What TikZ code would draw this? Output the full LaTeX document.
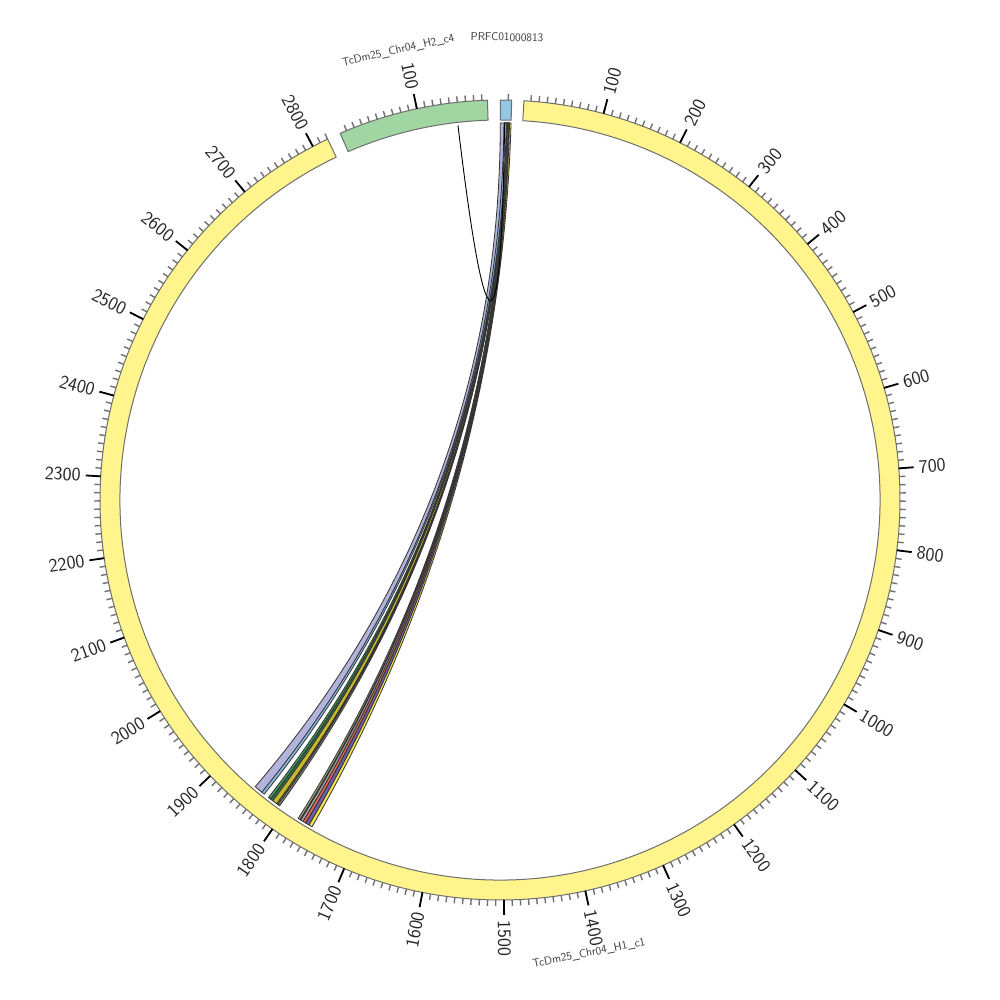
\documentclass[tikz,border=0pt]{standalone}
\usetikzlibrary{calc}
\definecolor{segyellow}{HTML}{FFF58C}
\definecolor{seggreen}{HTML}{A1D6A3}
\definecolor{segblue}{HTML}{95C6E3}
\definecolor{segline}{HTML}{6E6E6E}
\definecolor{tickgray}{HTML}{707070}
\definecolor{labtext}{HTML}{262626}
\definecolor{labtextb}{HTML}{3A3A3A}
\definecolor{linkline}{HTML}{333333}
\definecolor{clav}{HTML}{B3B3DB}
\definecolor{clblue}{HTML}{86B8E2}
\definecolor{cgreen}{HTML}{3F9F5F}
\definecolor{cdkgreen}{HTML}{2F6F4F}
\definecolor{cyel}{HTML}{C8B82A}
\definecolor{colive}{HTML}{8F8F3A}
\definecolor{cgray}{HTML}{8C8C8C}
\definecolor{colgray}{HTML}{A4A482}
\definecolor{cltgreen}{HTML}{9ED09E}
\definecolor{cgrayb}{HTML}{A8A8A8}
\definecolor{cred}{HTML}{E26850}
\definecolor{cpurple}{HTML}{6E5EAE}
\definecolor{cyellow}{HTML}{F4E64C}
% ribbon from blue segment [a1,a2] (angles clockwise from top, deg) to yellow positions [p1,p2]
\newcommand{\myribbon}[5]{%
  \pgfmathsetmacro\ta{90-#1}%
  \pgfmathsetmacro\tb{90-#2}%
  \pgfmathsetmacro\tc{86.74-#3*0.11745}%
  \pgfmathsetmacro\td{86.74-#4*0.11745}%
  \filldraw[link, fill=#5] (\ta:377pt) .. controls (\ta:125.67pt) and (\td:125.67pt) .. (\td:377pt)
    arc[start angle=\td, end angle=\tc, radius=377pt]
    .. controls (\tc:125.67pt) and (\tb:125.67pt) .. (\tb:377pt)
    arc[start angle=\tb, end angle=\ta, radius=377pt] -- cycle;
}
\begin{document}
\begin{tikzpicture}[x=1pt,y=1pt,
  seg/.style={draw=segline, line width=1pt, line join=round},
  minortick/.style={draw=tickgray, line width=1.4pt},
  majortick/.style={draw=black, line width=1.8pt},
  ticklab/.style={font=\sffamily\fontsize{19}{19}\selectfont, text=labtext, inner sep=0pt},
  seglab/.style={font=\sffamily\fontsize{11.5}{12}\selectfont, text=labtextb, inner sep=0pt},
  link/.style={draw=linkline, line width=0.8pt, line join=round},
  thinlink/.style={draw=black, line width=0.9pt}]
\useasboundingbox (-500pt,-500pt) rectangle (500pt,500pt);

% ---------- ribbons ----------
% group 2
\myribbon{0.70}{0.95}{1824}{1827.5}{cgreen}
\myribbon{0.75}{1.00}{1820.5}{1824}{cdkgreen}
\myribbon{0.80}{1.05}{1814}{1820.5}{cyel}
\myribbon{0.85}{1.10}{1812}{1814}{colive}
\myribbon{0.90}{1.15}{1809.5}{1812}{cgray}
% group 3
\myribbon{1.05}{1.25}{1777.5}{1780.5}{colgray}
\myribbon{1.10}{1.30}{1776.5}{1777.5}{cltgreen}
\myribbon{1.15}{1.38}{1773}{1776.5}{cgrayb}
\myribbon{1.25}{1.48}{1769}{1773}{cred}
\myribbon{1.35}{1.58}{1764}{1769}{cpurple}
\myribbon{1.45}{1.68}{1759.5}{1764}{cyellow}
% group 1
\myribbon{0.05}{0.85}{1838}{1849.6}{clav}
\myribbon{0.60}{0.95}{1834.5}{1838.5}{clblue}

% thin link green -> blue
\coordinate (lc) at (0,23pt);
\coordinate (lg) at (96.4:377pt);
\coordinate (lb) at (89.3:377pt);
\draw[thinlink] (lg) .. controls ($(lg)!0.6667!(lc)$) and ($(lb)!0.6667!(lc)$) .. (lb);

% ---------- segments ----------
\draw[seg, fill=segyellow] (86.56:380pt) -- (86.56:400pt)
  arc[start angle=86.56, end angle=-244.47, radius=400pt] -- (-244.47:380pt)
  arc[start angle=-244.47, end angle=86.56, radius=380pt] -- cycle;
\draw[seg, fill=seggreen] (-246.45:380pt) -- (-246.45:400pt)
  arc[start angle=-246.45, end angle=-268.2, radius=400pt] -- (-268.2:380pt)
  arc[start angle=-268.2, end angle=-246.45, radius=380pt] -- cycle;
\draw[seg, fill=segblue] (89.95:380pt) -- (89.95:400pt)
  arc[start angle=89.95, end angle=88.32, radius=400pt] -- (88.32:380pt)
  arc[start angle=88.32, end angle=89.95, radius=380pt] -- cycle;

% ---------- ticks: yellow ----------
\foreach \p in {10,20,...,2820}{
  \pgfmathsetmacro\t{86.74-\p*0.11745}
  \draw[minortick] (\t:400pt) -- (\t:406pt);
}
\foreach \p in {100,200,...,2800}{
  \pgfmathsetmacro\t{86.74-\p*0.11745}
  \draw[majortick] (\t:400pt) -- (\t:415pt);
  \ifdim\t pt<-90pt
    \pgfmathsetmacro\tr{\t+180}
    \node[ticklab, anchor=east, rotate=\tr] (ty\p) at (\t:420pt) {\p};
  \else
    \node[ticklab, anchor=west, rotate=\t] (ty\p) at (\t:420pt) {\p};
  \fi
}
% ---------- ticks: green ----------
\foreach \p in {10,20,...,180}{
  \pgfmathsetmacro\t{-246.26-\p*0.11745}
  \draw[minortick] (\t:400pt) -- (\t:406pt);
}
\pgfmathsetmacro\tg{-246.26-100*0.11745}
\draw[majortick] (\tg:400pt) -- (\tg:415pt);
\pgfmathsetmacro\tgr{\tg+180}
\node[ticklab, anchor=east, rotate=\tgr] (tg100) at (\tg:420pt) {100};
% ---------- tick: blue ----------
\draw[minortick] (88.82:400pt) -- (88.82:406pt);

% ---------- segment labels ----------
\node[seglab, rotate=11.1] (lY) at (-78.9:462pt) {TcDm25\_Chr04\_H1\_c1};
\node[seglab, rotate=12.75] (lG) at (102.75:461pt) {TcDm25\_Chr04\_H2\_c4};
\node[seglab, rotate=-0.87] (lB) at (89.13:463pt) {PRFC01000813};
\end{tikzpicture}
\end{document}
